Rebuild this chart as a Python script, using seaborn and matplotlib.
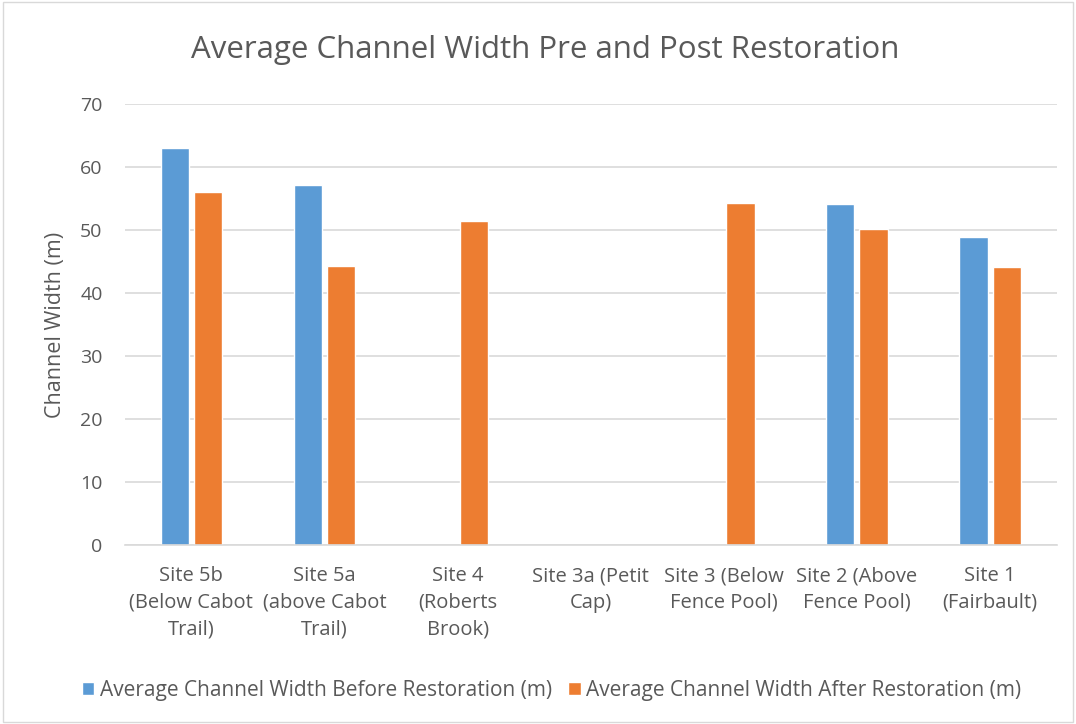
import matplotlib
matplotlib.use('Agg')
import matplotlib.pyplot as plt
import seaborn as sns
import pandas as pd
import numpy as np

sites = ["Site 5b\n(Below Cabot\nTrail)", "Site 5a\n(above Cabot\nTrail)", "Site 4\n(Roberts\nBrook)",
         "Site 3a (Petit\nCap)", "Site 3 (Below\nFence Pool)", "Site 2 (Above\nFence Pool)", "Site 1\n(Fairbault)"]
before = [63.0, 57.2, np.nan, np.nan, np.nan, 54.1, 49.0]
after = [56.0, 44.4, 51.5, np.nan, 54.4, 50.2, 44.1]
series = ["Average Channel Width Before Restoration (m)", "Average Channel Width After Restoration (m)"]
colors = ["#5B9BD5", "#ED7D31"]

# long form table for seaborn
df = pd.DataFrame({
    "Site": sites * 2,
    "Width": before + after,
    "Series": [series[0]] * len(sites) + [series[1]] * len(sites),
})

sns.set_style("white")
plt.rcParams['font.family'] = ['Open Sans', 'DejaVu Sans']
text_color = "#595959"

fig = plt.figure(figsize=(10.76, 7.24), dpi=100)
ax = fig.add_axes([0.116, 0.247, 0.866, 0.609])

sns.barplot(data=df, x="Site", y="Width", hue="Series", order=sites, hue_order=series,
            palette=colors, width=0.5, gap=0.15, ax=ax, legend=True, saturation=1)

ax.set_ylim(0, 70)
ax.set_yticks(range(0, 71, 10))
ax.yaxis.grid(True, color="#D9D9D9", linewidth=1.2)
ax.set_axisbelow(True)
for s in ["top", "right", "left"]:
    ax.spines[s].set_visible(False)
ax.spines["bottom"].set_color("#D9D9D9")
ax.spines["bottom"].set_linewidth(1.2)
ax.tick_params(axis="both", length=0, colors=text_color, labelsize=14)
ax.tick_params(axis="x", labelsize=14.5, pad=15)
ax.tick_params(axis="y", pad=16)
for lbl in ax.get_xticklabels():
    lbl.set_linespacing(1.45)
ax.set_xlabel("")
ax.set_ylabel("Channel Width (m)", fontsize=15.5, color=text_color, labelpad=10)

fig.suptitle("Average Channel Width Pre and Post Restoration", fontsize=22.5, color=text_color,
             x=0.507, y=0.952)

ax.legend(loc="center", bbox_to_anchor=(0.458, -0.33), ncol=2, frameon=False,
          fontsize=15, labelcolor=text_color, handlelength=0.6, handleheight=0.6,
          handletextpad=0.25, columnspacing=0.8)

# chart border like the spreadsheet chart area
fig.patches.append(plt.Rectangle((0.003, 0.003), 0.994, 0.994, transform=fig.transFigure,
                                 fill=False, edgecolor="#D9D9D9", linewidth=1))

plt.savefig("out.png", dpi=100)
plt.close()
